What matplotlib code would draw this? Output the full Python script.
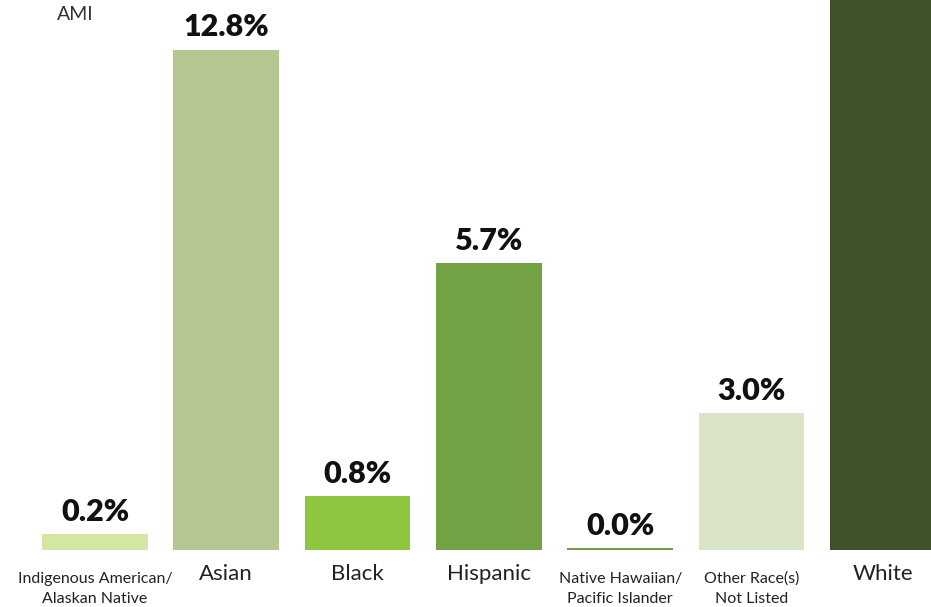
import numpy as np
import matplotlib
matplotlib.use("Agg")
from matplotlib import pyplot as plt

# categories and values shown on the chart
categories = ["Indigenous American/\nAlaskan Native", "Asian", "Black", "Hispanic",
              "Native Hawaiian/\nPacific Islander", "Other Race(s)\nNot Listed", "White"]
labels = ["0.2%", "12.8%", "0.8%", "5.7%", "0.0%", "3.0%", ""]
# drawn bar lengths (the original infographic is not to scale)
heights = [0.40, 12.8, 1.38, 7.34, 0.05, 3.5, 20.0]
colors = ["#d4e6a1", "#b4c790", "#8dc63f", "#72a244", "#6f9f4a", "#d9e4c9", "#405228"]
cat_sizes = [11.5, 16, 16, 16, 11.5, 11.5, 16]

plt.rcParams['font.family'] = ['Lato', 'DejaVu Sans']

fig = plt.figure(figsize=(9.31, 6.07), dpi=100)
ax = fig.add_axes([0, 57 / 607, 1, 550 / 607])

x = np.arange(len(categories))
ax.bar(x, heights, width=0.805, color=colors)
ax.set_xlim(-95 / 131.3, (931 - 95) / 131.3)
ax.set_ylim(0, 550 / 39.1)
ax.axis('off')

# value labels above bars
for i in range(len(x)):
    if labels[i]:
        ax.annotate(labels[i], (x[i], heights[i]), xytext=(0, 6), textcoords='offset points',
                    ha='center', va='bottom', fontsize=22, fontweight='heavy', color='#111111')

# category labels under bars
for i in range(len(x)):
    dy = 17 if cat_sizes[i] > 12 else 28
    ax.annotate(categories[i], (x[i], 0), xycoords=('data', 'axes fraction'),
                xytext=(0, -dy), textcoords='offset points', ha='center', va='center',
                fontsize=cat_sizes[i], color='#222222', linespacing=1.55)

fig.text(75 / 931, 1 - 14 / 607, "AMI", ha='center', va='center', fontsize=14,
         color='#333333')

fig.savefig("out.png", dpi=100)
